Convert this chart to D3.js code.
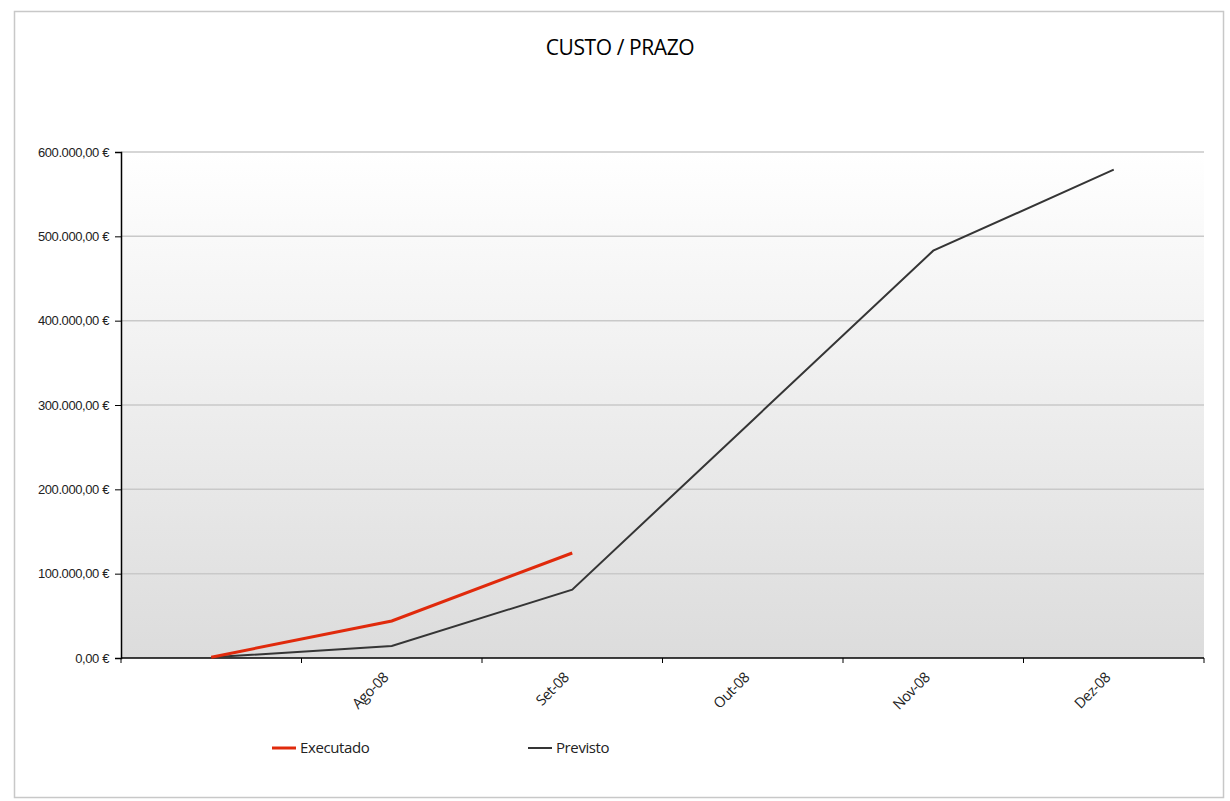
<!DOCTYPE html>
<html>
<head>
<meta charset="utf-8">
<script src="https://cdn.jsdelivr.net/npm/d3@7"></script>
<style>
  body { margin: 0; background: #fff; }
  svg { display: block; font-family: "Open Sans", "DejaVu Sans", sans-serif; }
  .axis text { fill: #222; }
</style>
</head>
<body>
<div id="chart"></div>
<script>
// categories (first month has no label in the source)
const months = ['', 'Ago-08', 'Set-08', 'Out-08', 'Nov-08', 'Dez-08'];
const executado = [1000, 43900, 124500];
const previsto = [800, 14200, 81100, 282000, 483000, 579000];
const yTicks = [0, 100000, 200000, 300000, 400000, 500000, 600000];
const seriesNames = ['Executado', 'Previsto'];
const seriesColors = ['#e02a0c', '#353535'];

const W = 1230, H = 801;
const m = { t: 152, r: 26, b: 143, l: 121 };

const svg = d3.select('#chart').append('svg').attr('width', W).attr('height', H);

// outer frame
svg.append('rect').attr('x', 14.5).attr('y', 11.5).attr('width', 1209).attr('height', 786)
  .attr('fill', '#fff').attr('stroke', '#c8c8c8').attr('stroke-width', 1.5);

svg.append('text').attr('x', 620).attr('y', 55).attr('text-anchor', 'middle')
  .attr('font-size', 21).attr('font-weight', 500).attr('fill', '#000')
  .attr('letter-spacing', -0.4).text('CUSTO / PRAZO');

const x = d3.scaleBand().domain(d3.range(months.length)).range([m.l, W - m.r]);
const y = d3.scaleLinear().domain([0, 600000]).range([H - m.b, m.t]);

const grad = svg.append('defs').append('linearGradient').attr('id', 'bg')
  .attr('x1', 0).attr('y1', 0).attr('x2', 0).attr('y2', 1);
grad.append('stop').attr('offset', 0).attr('stop-color', '#ffffff');
grad.append('stop').attr('offset', 1).attr('stop-color', '#dcdcdc');

svg.append('rect').attr('x', m.l).attr('y', m.t)
  .attr('width', W - m.r - m.l).attr('height', y(0) - m.t).attr('fill', 'url(#bg)');

// gridlines
svg.append('g').selectAll('line').data(yTicks.slice(1)).join('line')
  .attr('x1', m.l).attr('x2', W - m.r).attr('y1', d => y(d)).attr('y2', d => y(d))
  .attr('stroke', '#c9c9c9').attr('stroke-width', 1.5);

const loc = d3.formatLocale({ decimal: ',', thousands: '.', grouping: [3], currency: ['', ' €'] });
const fmt = loc.format('$,.2f');

// y axis
const ya = svg.append('g').attr('class', 'axis').attr('transform', `translate(${m.l},0)`)
  .call(d3.axisLeft(y).tickValues(yTicks).tickFormat(fmt).tickSize(6).tickPadding(6));
ya.select('.domain').attr('stroke', '#000').attr('stroke-width', 1.5);
ya.selectAll('.tick line').attr('stroke', '#000');
ya.selectAll('text').attr('font-size', 13).attr('letter-spacing', -0.4);

// x axis: ticks at band boundaries, labels at centres
const bounds = d3.range(months.length + 1).map(i => m.l + i * x.step());
const xa = svg.append('g').attr('class', 'axis');
xa.append('line').attr('x1', m.l).attr('x2', W - m.r).attr('y1', y(0)).attr('y2', y(0))
  .attr('stroke', '#000').attr('stroke-width', 1.5);
xa.selectAll('line.tk').data(bounds).join('line').attr('class', 'tk')
  .attr('x1', d => d).attr('x2', d => d).attr('y1', y(0)).attr('y2', y(0) + 5)
  .attr('stroke', '#000');
xa.selectAll('text').data(months).join('text')
  .attr('transform', (d, i) => `translate(${x(i) + x.bandwidth() / 2 - 6},${y(0) + 17}) rotate(-45)`)
  .attr('text-anchor', 'end').attr('dy', '0.35em')
  .attr('font-size', 14.5).attr('letter-spacing', -0.5).text(d => d);

// lines
const line = d3.line().x((d, i) => x(i) + x.bandwidth() / 2).y(d => y(d));
svg.append('path').datum(previsto).attr('d', line)
  .attr('fill', 'none').attr('stroke', seriesColors[1]).attr('stroke-width', 2);
svg.append('path').datum(executado).attr('d', line)
  .attr('fill', 'none').attr('stroke', seriesColors[0]).attr('stroke-width', 3);

// legend
const legX = [272, 528];
const leg = svg.append('g').selectAll('g').data(seriesNames).join('g')
  .attr('transform', (d, i) => `translate(${legX[i]},748)`);
leg.append('line').attr('x1', 0).attr('x2', 24).attr('y1', 0).attr('y2', 0)
  .attr('stroke', (d, i) => seriesColors[i]).attr('stroke-width', (d, i) => i ? 2 : 3);
leg.append('text').attr('x', 28).attr('dy', '0.35em').attr('font-size', 15)
  .attr('letter-spacing', -0.4).attr('fill', '#222').text(d => d);
</script>
</body>
</html>
